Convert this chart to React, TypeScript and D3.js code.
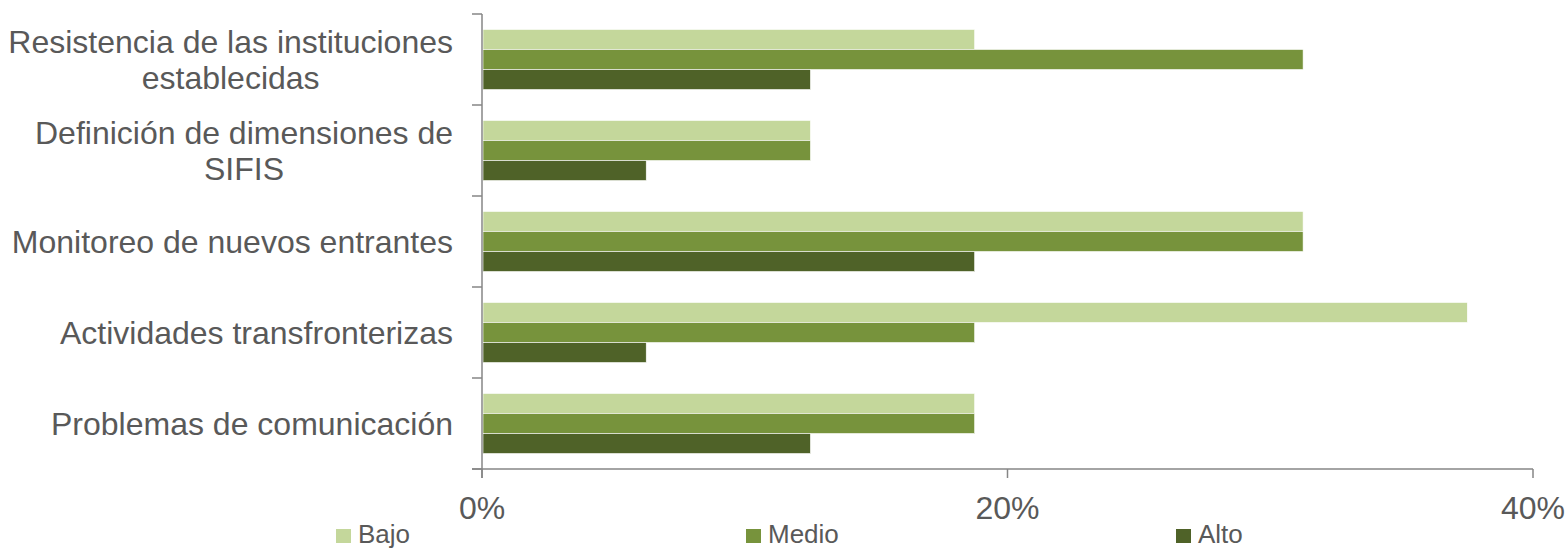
import React, { useEffect, useRef } from "react";
import * as d3 from "d3";

const categories = [
  ["Resistencia de las instituciones", "establecidas"],
  ["Definición de dimensiones de", "SIFIS"],
  ["Monitoreo de nuevos entrantes"],
  ["Actividades transfronterizas"],
  ["Problemas de comunicación"],
];
const seriesNames = ["Bajo", "Medio", "Alto"];
const seriesColors = ["#c4d79b", "#77933c", "#4f6228"];
const bajo = [0.1875, 0.125, 0.3125, 0.375, 0.1875];
const medio = [0.3125, 0.125, 0.3125, 0.1875, 0.1875];
const alto = [0.125, 0.0625, 0.1875, 0.0625, 0.125];
const xTicks = [0, 0.2, 0.4];

const W = 1568;
const H = 549;
const FONT = "'Liberation Sans', Arial, sans-serif";
const TEXT = "#595959";
const AXIS = "#868686";

export default function App() {
  const ref = useRef<SVGSVGElement>(null);
  useEffect(() => {
    const svg = d3.select(ref.current);
    svg.selectAll("*").remove();
    const left = 482, right = 1533, top = 14, bottom = 469;
    const x = d3.scaleLinear().domain([0, 0.4]).range([left, right]);
    const keys = categories.map((c) => c.join(" "));
    const y = d3.scaleBand().domain(keys).range([top, bottom]).paddingInner(0.34).paddingOuter(0.17);
    const yInner = d3.scaleBand().domain(seriesNames).range([0, y.bandwidth()]);
    const data = [bajo, medio, alto];

    const g = svg.append("g");
    keys.forEach((k, i) => {
      seriesNames.forEach((s, j) => {
        g.append("rect")
          .attr("x", x(0) + 1)
          .attr("y", (y(k) as number) + (yInner(s) as number))
          .attr("width", x(data[j][i]) - x(0) - 1)
          .attr("height", yInner.bandwidth())
          .attr("fill", seriesColors[j])
          .attr("stroke", "#ffffff")
          .attr("stroke-width", 0.6);
      });
    });

    // axes
    const step = y.step();
    svg.append("line").attr("x1", left).attr("x2", left).attr("y1", top).attr("y2", bottom + 9)
      .attr("stroke", AXIS).attr("stroke-width", 1.5);
    for (let i = 0; i <= keys.length; i++) {
      const yy = top + i * step;
      svg.append("line").attr("x1", left - 10).attr("x2", left).attr("y1", yy).attr("y2", yy)
        .attr("stroke", AXIS).attr("stroke-width", 1.5);
    }
    svg.append("line").attr("x1", left - 10).attr("x2", right).attr("y1", bottom).attr("y2", bottom)
      .attr("stroke", AXIS).attr("stroke-width", 1.5);
    xTicks.forEach((t) => {
      svg.append("line").attr("x1", x(t)).attr("x2", x(t)).attr("y1", bottom).attr("y2", bottom + 9)
        .attr("stroke", AXIS).attr("stroke-width", 1.5);
      svg.append("text").attr("x", x(t)).attr("y", 519).attr("text-anchor", "middle")
        .attr("font-family", FONT).attr("font-size", 32).attr("fill", TEXT)
        .text(d3.format(".0%")(t));
    });

    // category labels
    categories.forEach((lines, i) => {
      const cy = (y(keys[i]) as number) + y.bandwidth() / 2;
      const grp = svg.append("g");
      const lh = 36;
      const texts = lines.map((ln, li) =>
        grp.append("text")
          .attr("y", cy + 11 + (li - (lines.length - 1) / 2) * lh)
          .attr("text-anchor", "middle")
          .attr("font-family", FONT).attr("font-size", 32).attr("fill", TEXT)
          .text(ln)
      );
      const widths = texts.map((t) => (t.node() as SVGTextElement).getComputedTextLength());
      const maxW = d3.max(widths) as number;
      const cx = 453 - maxW / 2;
      texts.forEach((t) => t.attr("x", cx));
    });

    // legend
    const legX = [336, 746, 1176];
    seriesNames.forEach((s, j) => {
      svg.append("rect").attr("x", legX[j]).attr("y", 529).attr("width", 15).attr("height", 14)
        .attr("fill", seriesColors[j]);
      svg.append("text").attr("x", legX[j] + 22).attr("y", 543)
        .attr("font-family", FONT).attr("font-size", 26).attr("fill", TEXT).text(s);
    });
  }, []);
  return (
    <svg ref={ref} width={W} height={H} style={{ position: "absolute", left: 0, top: 0, background: "#fff" }} />
  );
}
